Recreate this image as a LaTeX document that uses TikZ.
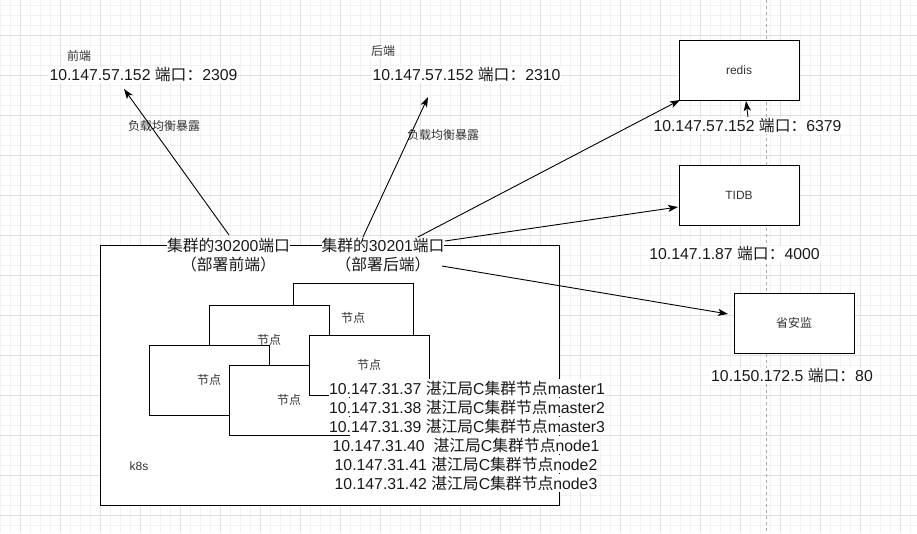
\documentclass[tikz,border=0pt]{standalone}
\usepackage{fontspec}
\setmainfont{Liberation Sans}
\newfontfamily\cjk{Noto Sans CJK SC}
\usetikzlibrary{arrows.meta}
\begin{document}
\begin{tikzpicture}[x=1pt,y=-1pt,
  minorgrid/.style={draw=black!5, line width=0.8pt},
  majorgrid/.style={draw=black!12, line width=0.9pt},
  pagebreak/.style={draw=black!35, line width=0.8pt, dash pattern=on 3pt off 3pt},
  box/.style={draw=black, fill=white, line width=1pt, inner sep=0pt, minimum width=120pt, minimum height=70pt, font=\fontsize{12}{14}\selectfont, text=black!80},
  big/.style={font=\fontsize{15.8}{18.5}\selectfont, text=black!90},
  small/.style={font=\fontsize{12}{14}\selectfont, text=black!80},
  bg/.style={fill=white, inner sep=1pt},
  ipl/.style={big, fill=white, inner xsep=0.5pt, inner ysep=0pt, minimum height=18pt},
  arr/.style={-{Stealth[length=10pt,width=7pt,inset=2.5pt]}, line width=0.9pt, draw=black},
]
\useasboundingbox (0,0) rectangle (917,533);
\fill[white] (0,0) rectangle (917,533);
% grid
\foreach \x in {0,10,...,910} \draw[minorgrid] (\x,0) -- (\x,533);
\foreach \y in {5,15,...,525} \draw[minorgrid] (0,\y) -- (917,\y);
\foreach \x in {20,60,...,900} \draw[majorgrid] (\x,0) -- (\x,533);
\foreach \y in {35,75,...,515} \draw[majorgrid] (0,\y) -- (917,\y);
\draw[pagebreak] (766.5,0) -- (766.5,533);

% k8s cluster box
\node[box, minimum width=459pt, minimum height=260pt] (k8sbox) at (329.5,375) {};
\node[small] (k8s) at (139,466) {k8s};

% node boxes
\node[box] (A) at (353,318) {\cjk 节点};
\node[box] (B) at (269,340) {\cjk 节点};
\node[box] (C) at (209,380) {\cjk 节点};
\node[box] (E) at (289,400) {\cjk 节点};
\node[box, minimum height=60pt] (D) at (369,365) {\cjk 节点};

% right boxes
\node[box, minimum height=60pt] (redis) at (739,70) {redis};
\node[box, minimum height=60pt] (tidb) at (739,195) {TIDB};
\node[box, minimum height=60pt] (saj) at (794,323) {\cjk 省安监};

% top labels
\node[small, bg] (qd) at (79,56) {\cjk 前端};
\node[big, bg] (ip1) at (143.5,75) {10.147.57.152 {\cjk 端口：}2309};
\node[small, bg] (hd) at (383,51) {\cjk 后端};
\node[big, bg] (ip2) at (466.5,75) {10.147.57.152 {\cjk 端口：}2310};
\node[small] (lb1) at (164,126) {\cjk 负载均衡暴露};
\node[small] (lb2) at (443,135) {\cjk 负载均衡暴露};

% port labels on cluster border
\node[big, fill=white, inner sep=0pt, align=center] (c1) at (228.5,255) {{\cjk 集群的}30200{\cjk 端口}\\{\cjk （部署前端）}};
\node[big, fill=white, inner sep=0pt, align=center] (c2) at (383,255) {{\cjk 集群的}30201{\cjk 端口}\\{\cjk （部署后端）}};

% node IP list
\node[ipl] (n1) at (467,388) {10.147.31.37 {\cjk 湛江局}C{\cjk 集群节点}master1};
\node[ipl] (n2) at (467,407) {10.147.31.38 {\cjk 湛江局}C{\cjk 集群节点}master2};
\node[ipl] (n3) at (467,426) {10.147.31.39 {\cjk 湛江局}C{\cjk 集群节点}master3};
\node[ipl] (n4) at (466,445) {10.147.31.40\ \ {\cjk 湛江局}C{\cjk 集群节点}node1};
\node[ipl] (n5) at (466,464) {10.147.31.41 {\cjk 湛江局}C{\cjk 集群节点}node2};
\node[ipl] (n6) at (466,483) {10.147.31.42 {\cjk 湛江局}C{\cjk 集群节点}node3};

% right IP labels
\node[big, bg] (ipr) at (747.5,126) {10.147.57.152 {\cjk 端口：}6379};
\node[big, bg] (ipt) at (734.5,254) {10.147.1.87 {\cjk 端口：}4000};
\node[big, bg] (ips) at (792,376) {10.150.172.5 {\cjk 端口：}80};

% connector end points
\coordinate (t1) at (229,235);
\coordinate (h1) at (124,89);
\coordinate (t2) at (363,237);
\coordinate (h2) at (428,97);
\coordinate (t3) at (418,237);
\coordinate (h3) at (680,100);
\coordinate (t4) at (445,241);
\coordinate (h4) at (678,207);
\coordinate (t5) at (442,266);
\coordinate (h5) at (728,314);
\coordinate (t6) at (748,117);
\coordinate (h6) at (746,101);

\draw[arr] (t1) -- (h1);
\draw[arr] (t2) -- (h2);
\draw[arr] (t3) -- (h3);
\draw[arr] (t4) -- (h4);
\draw[arr] (t5) -- (h5);
\draw[arr] (t6) -- (h6);
\end{tikzpicture}
\end{document}
